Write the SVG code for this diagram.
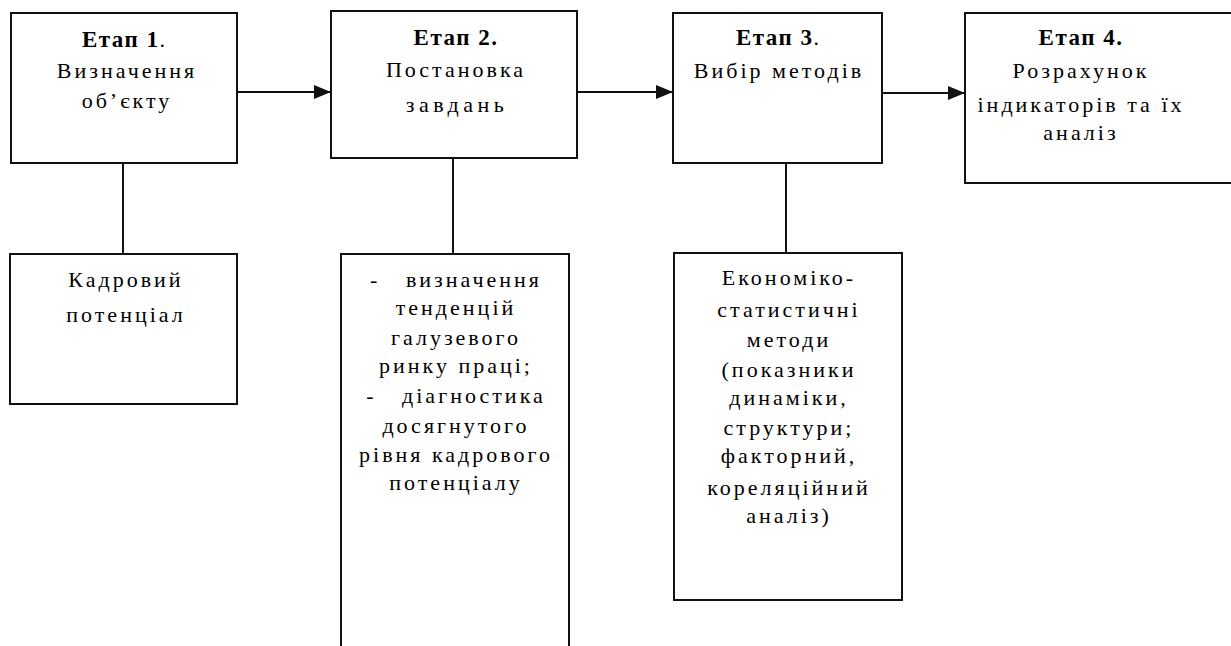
<svg xmlns="http://www.w3.org/2000/svg" width="1231" height="646" viewBox="0 0 1231 646">
<style>
.box{fill:#fff;stroke:#111;stroke-width:2}
.ln{stroke:#111;stroke-width:2;fill:none}
text{font-family:"Liberation Serif","Times New Roman",serif;font-size:22px;fill:#000;text-anchor:middle;letter-spacing:3px;white-space:pre}
.b{font-weight:bold;letter-spacing:1.5px;font-size:23px}
.n{font-weight:normal}
</style>
<defs>
<marker id="arr" markerUnits="userSpaceOnUse" markerWidth="18" markerHeight="16" refX="17" refY="7" orient="auto">
<path d="M0,0 L17,7 L0,14 Z" fill="#111"/>
</marker>
</defs>
<rect width="1231" height="646" fill="#fff"/>
<g id="connectors">
<line class="ln" x1="237" y1="92" x2="331" y2="92" marker-end="url(#arr)"/>
<line class="ln" x1="577" y1="92" x2="673" y2="92" marker-end="url(#arr)"/>
<line class="ln" x1="882" y1="93" x2="965" y2="93" marker-end="url(#arr)"/>
<line class="ln" x1="123" y1="163" x2="123" y2="254"/>
<line class="ln" x1="453" y1="158" x2="453" y2="254"/>
<line class="ln" x1="786" y1="163" x2="786" y2="253"/>
</g>
<g id="stage1">
<rect class="box" x="11" y="13" width="226" height="150"/>
<text x="125" y="47"><tspan class="b">Етап 1</tspan><tspan class="n">.</tspan></text>
<text x="127" y="78">Визначення</text>
<text x="127" y="108">об’єкту</text>
</g>
<g id="stage2">
<rect class="box" x="331" y="11" width="246" height="147"/>
<text class="b" x="456" y="45">Етап 2.</text>
<text x="456" y="77">Постановка</text>
<text x="457" y="112" style="letter-spacing:4.5px">завдань</text>
</g>
<g id="stage3">
<rect class="box" x="673" y="13" width="209" height="150"/>
<text x="779" y="45"><tspan class="b">Етап 3</tspan><tspan class="n">.</tspan></text>
<text x="779" y="78">Вибір методів</text>
</g>
<g id="stage4">
<rect class="box" x="965" y="13" width="280" height="170"/>
<text class="b" x="1081" y="45">Етап 4.</text>
<text x="1081" y="78">Розрахунок</text>
<text x="1081" y="112">індикаторів та їх</text>
<text x="1081" y="140">аналіз</text>
</g>
<g id="object">
<rect class="box" x="10" y="254" width="227" height="150"/>
<text x="126" y="287">Кадровий</text>
<text x="126" y="322">потенціал</text>
</g>
<g id="tasks">
<rect class="box" x="341" y="254" width="228" height="400"/>
<text x="456" y="287">-&#160;&#160; визначення</text>
<text x="456" y="315">тенденцій</text>
<text x="456" y="345">галузевого</text>
<text x="456" y="373">ринку праці;</text>
<text x="456" y="403">-&#160;&#160; діагностика</text>
<text x="456" y="433">досягнутого</text>
<text x="456" y="462">рівня кадрового</text>
<text x="456" y="490">потенціалу</text>
</g>
<g id="methods">
<rect class="box" x="674" y="253" width="228" height="347"/>
<text x="789" y="285">Економіко-</text>
<text x="789" y="317">статистичні</text>
<text x="789" y="347">методи</text>
<text x="789" y="377">(показники</text>
<text x="789" y="405">динаміки,</text>
<text x="789" y="435">структури;</text>
<text x="789" y="463">факторний,</text>
<text x="789" y="495">кореляційний</text>
<text x="789" y="523">аналіз)</text>
</g>
</svg>
